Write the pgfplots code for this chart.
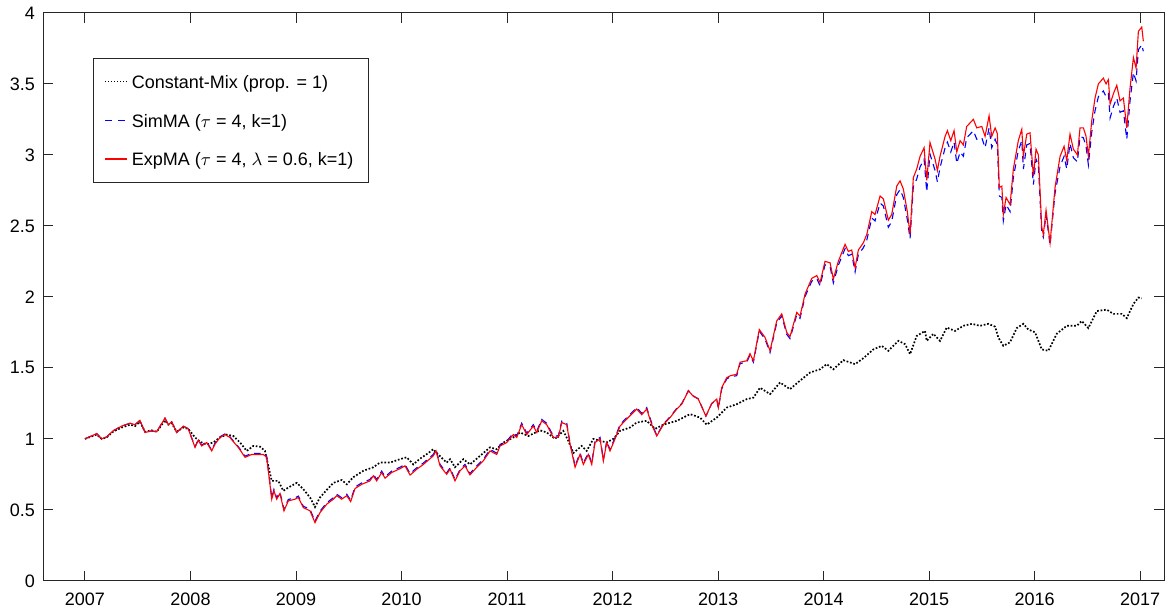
\documentclass[border=0pt]{standalone}
\usepackage{pgfplots}
\pgfplotsset{compat=1.18}
\usepackage{fontspec}
\setmainfont{Liberation Sans}
\definecolor{axgray}{rgb}{0.15,0.15,0.15}

\begin{document}
\begin{tikzpicture}
\begin{axis}[
  scale only axis, width=560.5pt, height=284pt,
  xmin=2006.602, xmax=2017.227, ymin=0, ymax=4,
  xtick={2007,2008,2009,2010,2011,2012,2013,2014,2015,2016,2017},
  xticklabels={2007,2008,2009,2010,2011,2012,2013,2014,2015,2016,2017},
  ytick={0,0.5,1,1.5,2,2.5,3,3.5,4},
  yticklabels={0,0.5,1,1.5,2,2.5,3,3.5,4},
  tick align=inside, major tick length=5pt,
  axis line style={draw=axgray, line width=0.5pt},
  every tick/.style={draw=axgray, line width=0.5pt},
  ticklabel style={font=\fontsize{9}{11}\selectfont, text=black},
  xticklabel style={yshift=-2.5pt},
  yticklabel style={xshift=-0.5pt},
  legend style={at={(0,1)}, anchor=north west, xshift=25pt, yshift=-22.5pt,
    draw=axgray, line width=0.5pt, font=\fontsize{9}{11}\selectfont,
    row sep=5.6pt, inner xsep=5.5pt, inner ysep=4.9pt,
    cells={anchor=west, text height=8.2pt, text depth=0.4pt}},
  legend cell align=left,
]
\addplot[color=black, draw=black, line width=0.85pt, dash pattern=on 0.85pt off 0.9pt,
  legend image code/.code={\draw[draw=black, line width=0.6pt, dash pattern=on 0.6pt off 0.9pt] (0pt,0pt) -- (11pt,0pt);}]
 table {
2007.000 1.000
2007.111 1.030
2007.158 1.000
2007.206 1.010
2007.265 1.050
2007.348 1.080
2007.427 1.100
2007.474 1.090
2007.521 1.120
2007.569 1.050
2007.632 1.060
2007.680 1.050
2007.758 1.130
2007.790 1.100
2007.822 1.110
2007.869 1.050
2007.932 1.080
2007.979 1.070
2008.043 1.010
2008.090 0.980
2008.154 0.960
2008.216 0.975
2008.280 1.010
2008.343 1.030
2008.406 1.020
2008.469 0.975
2008.533 0.915
2008.595 0.950
2008.659 0.945
2008.706 0.915
2008.770 0.704
2008.832 0.704
2008.880 0.634
2008.927 0.657
2009.007 0.690
2009.069 0.646
2009.133 0.587
2009.180 0.520
2009.227 0.587
2009.291 0.640
2009.354 0.690
2009.433 0.710
2009.481 0.680
2009.543 0.730
2009.638 0.775
2009.733 0.800
2009.796 0.833
2009.891 0.833
2009.986 0.857
2010.049 0.870
2010.112 0.820
2010.175 0.860
2010.254 0.900
2010.301 0.927
2010.334 0.900
2010.428 0.833
2010.460 0.857
2010.507 0.800
2010.586 0.857
2010.649 0.820
2010.744 0.880
2010.839 0.940
2010.902 0.927
2010.965 0.974
2011.060 1.010
2011.123 1.045
2011.202 1.020
2011.313 1.060
2011.376 1.045
2011.455 1.000
2011.534 1.056
2011.581 0.986
2011.628 0.900
2011.708 0.950
2011.755 0.915
2011.818 1.000
2011.882 0.986
2011.945 0.975
2012.008 1.000
2012.071 1.056
2012.166 1.080
2012.229 1.115
2012.324 1.127
2012.403 1.070
2012.482 1.100
2012.609 1.127
2012.735 1.174
2012.829 1.150
2012.893 1.100
2012.988 1.150
2013.082 1.220
2013.177 1.244
2013.272 1.280
2013.335 1.290
2013.398 1.360
2013.493 1.315
2013.588 1.397
2013.682 1.350
2013.777 1.410
2013.872 1.467
2013.967 1.490
2014.030 1.526
2014.093 1.490
2014.188 1.554
2014.299 1.526
2014.377 1.568
2014.472 1.630
2014.552 1.655
2014.614 1.620
2014.709 1.690
2014.773 1.667
2014.820 1.596
2014.883 1.725
2014.962 1.760
2014.978 1.690
2015.041 1.740
2015.104 1.690
2015.168 1.784
2015.246 1.760
2015.325 1.796
2015.405 1.810
2015.483 1.796
2015.562 1.810
2015.626 1.790
2015.657 1.713
2015.704 1.655
2015.768 1.680
2015.831 1.780
2015.894 1.810
2015.941 1.770
2016.005 1.750
2016.068 1.630
2016.131 1.620
2016.210 1.740
2016.305 1.796
2016.400 1.796
2016.447 1.830
2016.510 1.780
2016.590 1.900
2016.684 1.910
2016.747 1.880
2016.827 1.880
2016.874 1.850
2016.937 1.950
2016.984 1.995
2017.016 1.990
};
\addlegendentry{Constant-Mix (prop. = 1)}
\addplot[color=blue, draw=blue, line width=0.55pt, dash pattern=on 3.3pt off 2.5pt,
  legend image code/.code={\draw[draw=blue, line width=0.7pt, dash pattern=on 3.3pt off 3.3pt] (0pt,0pt) -- (11pt,0pt);}]
 table {
2007.000 1.000
2007.111 1.037
2007.158 1.000
2007.206 1.014
2007.265 1.056
2007.348 1.090
2007.427 1.110
2007.474 1.100
2007.521 1.130
2007.569 1.045
2007.632 1.056
2007.680 1.050
2007.758 1.146
2007.790 1.100
2007.822 1.120
2007.869 1.045
2007.932 1.090
2007.979 1.070
2008.043 0.945
2008.074 0.995
2008.106 0.955
2008.154 0.980
2008.201 0.920
2008.232 0.970
2008.280 1.015
2008.327 1.035
2008.374 1.015
2008.406 0.985
2008.453 0.945
2008.517 0.878
2008.580 0.898
2008.643 0.898
2008.690 0.898
2008.722 0.878
2008.770 0.585
2008.791 0.644
2008.817 0.585
2008.848 0.625
2008.886 0.503
2008.927 0.573
2008.991 0.585
2009.022 0.597
2009.069 0.526
2009.133 0.503
2009.180 0.420
2009.227 0.490
2009.291 0.550
2009.354 0.585
2009.386 0.610
2009.433 0.585
2009.481 0.610
2009.518 0.568
2009.559 0.660
2009.623 0.690
2009.701 0.714
2009.733 0.750
2009.765 0.714
2009.812 0.773
2009.844 0.733
2009.907 0.773
2009.986 0.800
2010.033 0.820
2010.081 0.755
2010.144 0.796
2010.207 0.830
2010.301 0.890
2010.327 0.925
2010.365 0.820
2010.428 0.760
2010.460 0.796
2010.507 0.714
2010.555 0.785
2010.602 0.820
2010.649 0.756
2010.713 0.810
2010.775 0.855
2010.839 0.925
2010.902 0.900
2010.934 0.960
2010.997 0.984
2011.060 1.040
2011.092 1.020
2011.139 1.110
2011.187 1.040
2011.249 1.100
2011.282 1.055
2011.329 1.137
2011.376 1.110
2011.439 1.020
2011.486 1.020
2011.519 1.125
2011.566 1.110
2011.597 0.973
2011.645 0.810
2011.692 0.900
2011.723 0.830
2011.771 0.900
2011.803 0.830
2011.834 0.984
2011.882 1.010
2011.913 0.855
2011.945 0.984
2011.976 0.925
2012.024 1.010
2012.071 1.100
2012.135 1.150
2012.197 1.196
2012.229 1.220
2012.277 1.180
2012.324 1.220
2012.372 1.110
2012.419 1.025
2012.482 1.105
2012.545 1.155
2012.609 1.215
2012.656 1.249
2012.719 1.340
2012.766 1.302
2012.813 1.282
2012.885 1.160
2012.940 1.248
2012.988 1.276
2013.003 1.215
2013.035 1.352
2013.082 1.422
2013.114 1.436
2013.177 1.445
2013.209 1.530
2013.272 1.540
2013.303 1.590
2013.335 1.540
2013.391 1.758
2013.445 1.703
2013.493 1.608
2013.556 1.816
2013.604 1.866
2013.651 1.736
2013.682 1.706
2013.746 1.874
2013.777 1.849
2013.825 2.002
2013.888 2.110
2013.936 2.128
2013.967 2.078
2014.014 2.226
2014.062 2.214
2014.093 2.098
2014.140 2.222
2014.204 2.340
2014.235 2.290
2014.267 2.300
2014.299 2.176
2014.330 2.298
2014.377 2.345
2014.410 2.400
2014.457 2.555
2014.488 2.535
2014.536 2.660
2014.567 2.640
2014.614 2.490
2014.646 2.530
2014.694 2.720
2014.725 2.755
2014.756 2.700
2014.794 2.545
2014.820 2.410
2014.851 2.775
2014.883 2.830
2014.915 2.915
2014.953 2.970
2014.978 2.740
2015.009 3.005
2015.057 2.890
2015.079 2.810
2015.104 2.910
2015.152 3.050
2015.174 3.090
2015.206 3.020
2015.237 3.090
2015.263 2.940
2015.294 3.020
2015.325 2.990
2015.357 3.120
2015.420 3.170
2015.452 3.110
2015.500 3.120
2015.531 3.050
2015.569 3.190
2015.594 3.050
2015.626 3.110
2015.647 3.070
2015.666 2.710
2015.690 2.700
2015.704 2.535
2015.730 2.650
2015.768 2.600
2015.799 2.840
2015.846 3.030
2015.879 3.100
2015.894 2.900
2015.926 3.070
2015.957 3.080
2015.989 2.790
2016.014 2.970
2016.036 2.930
2016.068 2.450
2016.083 2.420
2016.109 2.580
2016.147 2.365
2016.194 2.730
2016.242 2.920
2016.280 2.990
2016.305 2.900
2016.336 3.080
2016.368 2.980
2016.406 2.950
2016.431 3.130
2016.463 3.120
2016.488 3.060
2016.510 2.930
2016.542 3.160
2016.573 3.310
2016.605 3.410
2016.652 3.450
2016.678 3.410
2016.700 3.430
2016.716 3.260
2016.747 3.340
2016.779 3.400
2016.810 3.300
2016.842 3.310
2016.874 3.110
2016.905 3.380
2016.937 3.580
2016.962 3.520
2016.984 3.740
2017.016 3.775
2017.031 3.730
};
\addlegendentry{SimMA ($\tau$ = 4, k=1)}
\addplot[color=red, draw=red, line width=0.55pt,
  legend image code/.code={\draw[draw=red, line width=0.6pt] (0pt,0pt) -- (11pt,0pt);}]
 table {
2007.000 1.000
2007.111 1.037
2007.158 1.000
2007.206 1.014
2007.265 1.056
2007.348 1.090
2007.427 1.110
2007.474 1.100
2007.521 1.130
2007.569 1.045
2007.632 1.056
2007.680 1.050
2007.758 1.146
2007.790 1.100
2007.822 1.120
2007.869 1.045
2007.932 1.090
2007.979 1.070
2008.043 0.940
2008.074 0.990
2008.106 0.950
2008.154 0.974
2008.201 0.915
2008.232 0.963
2008.280 1.010
2008.327 1.030
2008.374 1.010
2008.406 0.980
2008.453 0.940
2008.517 0.870
2008.580 0.890
2008.643 0.890
2008.690 0.890
2008.722 0.870
2008.770 0.575
2008.791 0.634
2008.817 0.575
2008.848 0.615
2008.886 0.493
2008.927 0.563
2008.991 0.575
2009.022 0.587
2009.069 0.516
2009.133 0.493
2009.180 0.410
2009.227 0.480
2009.291 0.540
2009.354 0.575
2009.386 0.600
2009.433 0.575
2009.481 0.600
2009.518 0.558
2009.559 0.650
2009.623 0.680
2009.701 0.704
2009.733 0.740
2009.765 0.704
2009.812 0.763
2009.844 0.723
2009.907 0.763
2009.986 0.790
2010.033 0.810
2010.081 0.745
2010.144 0.786
2010.207 0.820
2010.301 0.880
2010.327 0.915
2010.365 0.810
2010.428 0.750
2010.460 0.786
2010.507 0.704
2010.555 0.775
2010.602 0.810
2010.649 0.746
2010.713 0.800
2010.775 0.845
2010.839 0.915
2010.902 0.890
2010.934 0.950
2010.997 0.974
2011.060 1.030
2011.092 1.010
2011.139 1.100
2011.187 1.030
2011.249 1.090
2011.282 1.045
2011.329 1.127
2011.376 1.100
2011.439 1.010
2011.486 1.010
2011.519 1.115
2011.566 1.100
2011.597 0.963
2011.645 0.800
2011.692 0.890
2011.723 0.820
2011.771 0.890
2011.803 0.820
2011.834 0.974
2011.882 1.000
2011.913 0.845
2011.945 0.974
2011.976 0.915
2012.024 1.000
2012.071 1.090
2012.135 1.140
2012.197 1.186
2012.229 1.210
2012.277 1.170
2012.324 1.210
2012.372 1.100
2012.419 1.020
2012.482 1.100
2012.545 1.150
2012.609 1.210
2012.656 1.244
2012.719 1.338
2012.766 1.300
2012.813 1.280
2012.885 1.160
2012.940 1.250
2012.988 1.280
2013.003 1.220
2013.035 1.360
2013.082 1.430
2013.114 1.444
2013.177 1.455
2013.209 1.540
2013.272 1.550
2013.303 1.600
2013.335 1.550
2013.391 1.770
2013.445 1.715
2013.493 1.620
2013.556 1.830
2013.604 1.880
2013.651 1.750
2013.682 1.720
2013.746 1.890
2013.777 1.865
2013.825 2.020
2013.888 2.130
2013.936 2.150
2013.967 2.100
2014.014 2.250
2014.062 2.240
2014.093 2.125
2014.140 2.250
2014.204 2.370
2014.235 2.320
2014.267 2.330
2014.299 2.206
2014.330 2.330
2014.377 2.380
2014.410 2.440
2014.457 2.600
2014.488 2.580
2014.536 2.710
2014.567 2.690
2014.614 2.540
2014.646 2.580
2014.694 2.780
2014.725 2.817
2014.756 2.760
2014.794 2.600
2014.820 2.440
2014.851 2.840
2014.883 2.900
2014.915 2.990
2014.953 3.050
2014.978 2.820
2015.009 3.087
2015.057 2.970
2015.079 2.890
2015.104 2.990
2015.152 3.130
2015.174 3.170
2015.206 3.100
2015.237 3.170
2015.263 3.020
2015.294 3.100
2015.325 3.070
2015.357 3.200
2015.420 3.250
2015.452 3.190
2015.500 3.200
2015.531 3.130
2015.569 3.275
2015.594 3.130
2015.626 3.190
2015.647 3.150
2015.666 2.770
2015.690 2.780
2015.704 2.580
2015.730 2.700
2015.768 2.650
2015.799 2.900
2015.846 3.100
2015.879 3.180
2015.894 2.990
2015.926 3.146
2015.957 3.155
2015.989 2.850
2016.014 3.040
2016.036 3.000
2016.068 2.490
2016.083 2.440
2016.109 2.610
2016.147 2.380
2016.194 2.770
2016.242 2.990
2016.280 3.060
2016.305 2.960
2016.336 3.146
2016.368 3.040
2016.406 3.000
2016.431 3.190
2016.463 3.190
2016.488 3.130
2016.510 2.990
2016.542 3.240
2016.573 3.400
2016.605 3.500
2016.652 3.540
2016.678 3.500
2016.700 3.530
2016.716 3.357
2016.747 3.430
2016.779 3.490
2016.810 3.380
2016.842 3.400
2016.874 3.190
2016.905 3.470
2016.937 3.685
2016.962 3.610
2016.984 3.870
2017.016 3.900
2017.031 3.800
};
\addlegendentry{ExpMA ($\tau$ = 4, $\lambda$ = 0.6, k=1)}
\end{axis}
\path (current axis.south west) ++(-21.5pt,-14.5pt) coordinate (bbsw);
\path (current axis.north east) ++(2.5pt,6pt) coordinate (bbne);
\path[use as bounding box] (bbsw) rectangle (bbne);
\end{tikzpicture}
\end{document}
